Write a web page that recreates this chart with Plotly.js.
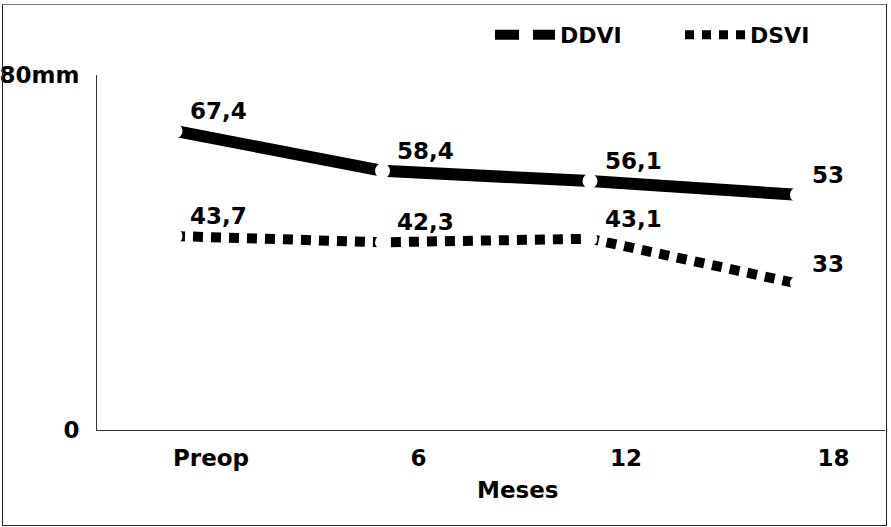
<!DOCTYPE html>
<html>
<head>
<meta charset="utf-8">
<script src="https://cdn.plot.ly/plotly-3.0.1.min.js"></script>
<style>
  html, body { margin: 0; padding: 0; background: #fff; }
  #chart { position: absolute; left: 0; top: 0; width: 891px; height: 527px; }
  #frame { position: absolute; left: 2px; top: 4px; width: 883px; height: 520px;
           border: 1px solid #222; border-top-color: #777; pointer-events: none; }
</style>
</head>
<body>
<div id="chart"></div>
<div id="frame"></div>
<script>
// ---- data ----
const categories = ['Preop', '6', '12', '18'];
const ddvi = [67.4, 58.4, 56.1, 53];
const dsvi = [43.7, 42.3, 43.1, 33];
const seriesNames = ['DDVI', 'DSVI'];
const yTickVals = [0, 80];
const yTickText = ['0', '80mm'];
const xTitle = 'Meses';

const FONT = 'DejaVu Sans';
const fmt = v => String(v).replace('.', ',');

const traces = [
  { x: categories, y: ddvi, type: 'scatter', mode: 'lines+markers', showlegend: false,
    line: { color: '#000', width: 12 },
    marker: { symbol: 'circle', size: 15, color: '#fff', line: { width: 0 } } },
  { x: categories, y: dsvi, type: 'scatter', mode: 'lines+markers', showlegend: false,
    line: { color: '#000', width: 10, dash: '10px,8px' },
    marker: { symbol: 'circle', size: 15, color: '#fff', line: { width: 0 } } },
  // legend entries
  { x: [null], y: [null], type: 'scatter', mode: 'lines', name: seriesNames[0],
    line: { color: '#000', width: 10, dash: '24px,14px' } },
  { x: [null], y: [null], type: 'scatter', mode: 'lines', name: seriesNames[1],
    line: { color: '#000', width: 9, dash: '9px,8px' } }
];

const annotations = [];
[ddvi, dsvi].forEach(series => {
  series.forEach((v, i) => {
    annotations.push({
      x: i, y: v, xref: 'x', yref: 'y', text: fmt(v), showarrow: false,
      xanchor: 'left', yanchor: 'middle', xshift: 13, yshift: 20,
      font: { family: FONT, size: 23, color: '#000', weight: 'bold' }
    });
  });
});
annotations.push({
  text: xTitle, xref: 'paper', yref: 'paper', x: (517 - 97) / 788, y: -(490 - 430) / 355,
  xanchor: 'center', yanchor: 'middle', showarrow: false,
  font: { family: FONT, size: 23, color: '#000', weight: 'bold' }
});

const layout = {
  width: 891, height: 527,
  margin: { l: 97, r: 6, t: 75, b: 97, pad: 0 },
  paper_bgcolor: '#fff', plot_bgcolor: '#fff',
  font: { family: FONT, size: 23, color: '#000', weight: 'bold' },
  xaxis: {
    type: 'category', range: [-0.376, 3.422],
    showline: true, linecolor: '#333', linewidth: 1, mirror: false,
    showgrid: false, zeroline: false, ticks: '',
    ticklabelshift: 36, ticklabelstandoff: 7,
    tickfont: { family: FONT, size: 23, color: '#000', weight: 'bold' }
  },
  yaxis: {
    range: [0, 80], tickvals: yTickVals, ticktext: yTickText,
    showline: true, linecolor: '#333', linewidth: 1,
    showgrid: false, zeroline: false, ticks: '',
    ticklabelstandoff: 12,
    tickfont: { family: FONT, size: 23, color: '#000', weight: 'bold' }
  },
  showlegend: true,
  legend: {
    orientation: 'h', x: (870 - 97) / 788, y: (430 - 35) / 355,
    xanchor: 'right', yanchor: 'middle',
    itemwidth: 60, entrywidth: 115, entrywidthmode: 'pixels',
    font: { family: FONT, size: 22, color: '#000', weight: 'bold' },
    bgcolor: 'rgba(0,0,0,0)'
  },
  annotations: annotations
};

Plotly.newPlot('chart', traces, layout, { displayModeBar: false, staticPlot: true });
</script>
</body>
</html>
